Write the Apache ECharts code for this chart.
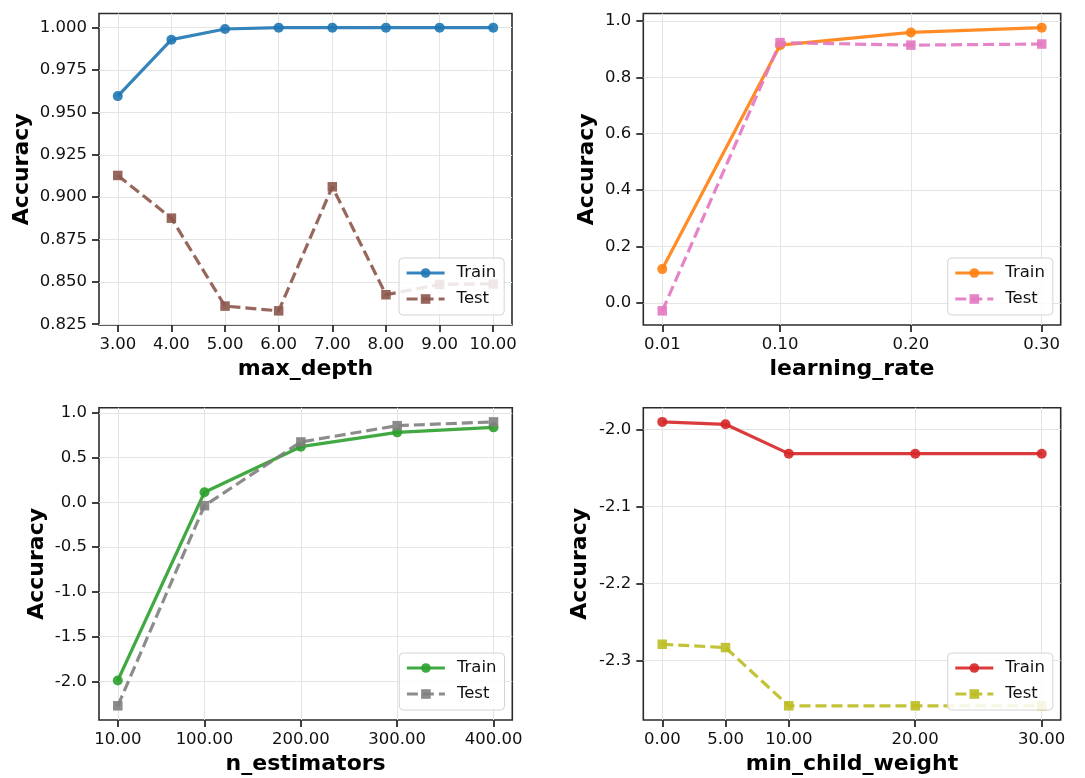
<!DOCTYPE html>
<html>
<head>
<meta charset="utf-8">
<script src="https://cdn.jsdelivr.net/npm/echarts@6/dist/echarts.min.js"></script>
<style>
  html, body { margin: 0; padding: 0; background: #fff; }
  #chart { width: 1085px; height: 778px; }
</style>
</head>
<body>
<div id="chart"></div>
<script>
// max_depth
var depthX = [3, 4, 5, 6, 7, 8, 9, 10];
var depthTrain = [0.9596, 0.9929, 0.9992, 1.0, 1.0, 1.0, 1.0, 1.0];
var depthTest = [0.9128, 0.8876, 0.8357, 0.8329, 0.9061, 0.8424, 0.8485, 0.8488];
var depthYTicks = [0.825, 0.85, 0.875, 0.9, 0.925, 0.95, 0.975, 1.0];

// learning_rate
var lrX = [0.01, 0.1, 0.2, 0.3];
var lrTrain = [0.12, 0.914, 0.959, 0.976];
var lrTest = [-0.028, 0.923, 0.914, 0.918];
var lrYTicks = [0.0, 0.2, 0.4, 0.6, 0.8, 1.0];

// n_estimators
var nX = [10, 100, 200, 300, 400];
var nTrain = [-1.99, 0.113, 0.622, 0.782, 0.838];
var nTest = [-2.273, -0.037, 0.675, 0.857, 0.899];
var nYTicks = [-2.0, -1.5, -1.0, -0.5, 0.0, 0.5, 1.0];

// min_child_weight
var mcwX = [0, 5, 10, 20, 30];
var mcwTrain = [-1.9904, -1.9935, -2.0316, -2.0316, -2.0316];
var mcwTest = [-2.2787, -2.2830, -2.3585, -2.3585, -2.3585];
var mcwYTicks = [-2.3, -2.2, -2.1, -2.0];

var FONT = 'DejaVu Sans';

function pairs(xs, ys) {
  return xs.map(function (x, i) { return [x, ys[i]]; });
}

// matplotlib style 5% margins
function pad(arr) {
  var lo = Math.min.apply(null, arr), hi = Math.max.apply(null, arr);
  var m = (hi - lo) * 0.05;
  return [lo - m, hi + m];
}

var panels = [
  { x: depthX, tr: depthTrain, te: depthTest, yt: depthYTicks, yd: 3, name: 'max_depth',
    c1: '#1f77b4', c2: '#8c564b', grid: { left: 99, top: 13.5, width: 413, height: 311.5 }, yGap: 66 },
  { x: lrX, tr: lrTrain, te: lrTest, yt: lrYTicks, yd: 1, name: 'learning_rate',
    c1: '#ff7f0e', c2: '#e377c2', grid: { left: 643.3, top: 13.5, width: 417.4, height: 311.5 }, yGap: 45 },
  { x: nX, tr: nTrain, te: nTest, yt: nYTicks, yd: 1, name: 'n_estimators',
    c1: '#2ca02c', c2: '#7f7f7f', grid: { left: 99, top: 407.7, width: 413.3, height: 312.3 }, yGap: 51 },
  { x: mcwX, tr: mcwTrain, te: mcwTest, yt: mcwYTicks, yd: 1, name: 'min_child_weight',
    c1: '#d62728', c2: '#bcbd22', grid: { left: 643.3, top: 407.7, width: 417.4, height: 312.3 }, yGap: 52 }
];

var option = {
  backgroundColor: '#fff',
  animation: false,
  textStyle: { fontFamily: FONT },
  grid: [], xAxis: [], yAxis: [], series: [], legend: []
};

panels.forEach(function (p, i) {
  var xr = pad(p.x);
  var yr = pad(p.tr.concat(p.te));
  option.grid.push(Object.assign({
    show: true, borderColor: '#2b2b2b', borderWidth: 1.6, backgroundColor: 'transparent'
  }, p.grid));
  option.xAxis.push({
    type: 'value', gridIndex: i, min: xr[0], max: xr[1],
    name: p.name, nameLocation: 'middle', nameGap: 33,
    nameTextStyle: { fontFamily: FONT, fontSize: 22, fontWeight: 'bold', color: '#000' },
    axisLine: { show: false, onZero: false },
    axisTick: { show: true, length: 7, lineStyle: { color: '#2b2b2b', width: 1.8 }, customValues: p.x },
    axisLabel: { customValues: p.x, margin: 11, fontFamily: FONT, fontSize: 16.5, color: '#111',
      formatter: function (v) { return v.toFixed(2); } },
    splitLine: { show: true, lineStyle: { color: '#e4e4e4', width: 1 } }
  });
  option.yAxis.push({
    type: 'value', gridIndex: i, min: yr[0], max: yr[1],
    name: 'Accuracy', nameLocation: 'middle', nameGap: p.yGap,
    nameTextStyle: { fontFamily: FONT, fontSize: 22, fontWeight: 'bold', color: '#000' },
    axisLine: { show: false, onZero: false },
    axisTick: { show: true, length: 7, lineStyle: { color: '#2b2b2b', width: 1.8 }, customValues: p.yt },
    axisLabel: { customValues: p.yt, margin: 12, fontFamily: FONT, fontSize: 16.5, color: '#111',
      formatter: function (v) { return v.toFixed(p.yd); } },
    splitLine: { show: true, lineStyle: { color: '#e4e4e4', width: 1 } }
  });
  option.series.push({
    name: 'Train|' + i, type: 'line', xAxisIndex: i, yAxisIndex: i,
    data: pairs(p.x, p.tr), symbol: 'circle', symbolSize: 10,
    lineStyle: { color: p.c1, width: 3.2, opacity: 0.9 },
    itemStyle: { color: p.c1, opacity: 0.9 }
  });
  option.series.push({
    name: 'Test|' + i, type: 'line', xAxisIndex: i, yAxisIndex: i,
    data: pairs(p.x, p.te), symbol: 'rect', symbolSize: 9.5,
    lineStyle: { color: p.c2, width: 3.2, opacity: 0.9, type: [11, 5] },
    itemStyle: { color: p.c2, opacity: 0.9 }
  });
  option.legend.push({
    data: ['Train|' + i, 'Test|' + i],
    orient: 'vertical',
    left: p.grid.left + p.grid.width - 113,
    top: p.grid.top + p.grid.height - 67,
    itemWidth: 38, itemHeight: 12, itemGap: 8,
    padding: [6, 8, 7, 6],
    backgroundColor: 'rgba(255,255,255,0.85)',
    borderColor: '#d4d4d4', borderWidth: 1, borderRadius: 4,
    selectedMode: false,
    lineStyle: { width: 3.2 },
    formatter: function (n) { return n.split('|')[0]; },
    textStyle: { fontFamily: FONT, fontSize: 16.5, color: '#111', lineHeight: 18, padding: [0, 0, 0, 7] }
  });
});

var chart = echarts.init(document.getElementById('chart'), null, { renderer: 'canvas' });
chart.setOption(option);
</script>
</body>
</html>
